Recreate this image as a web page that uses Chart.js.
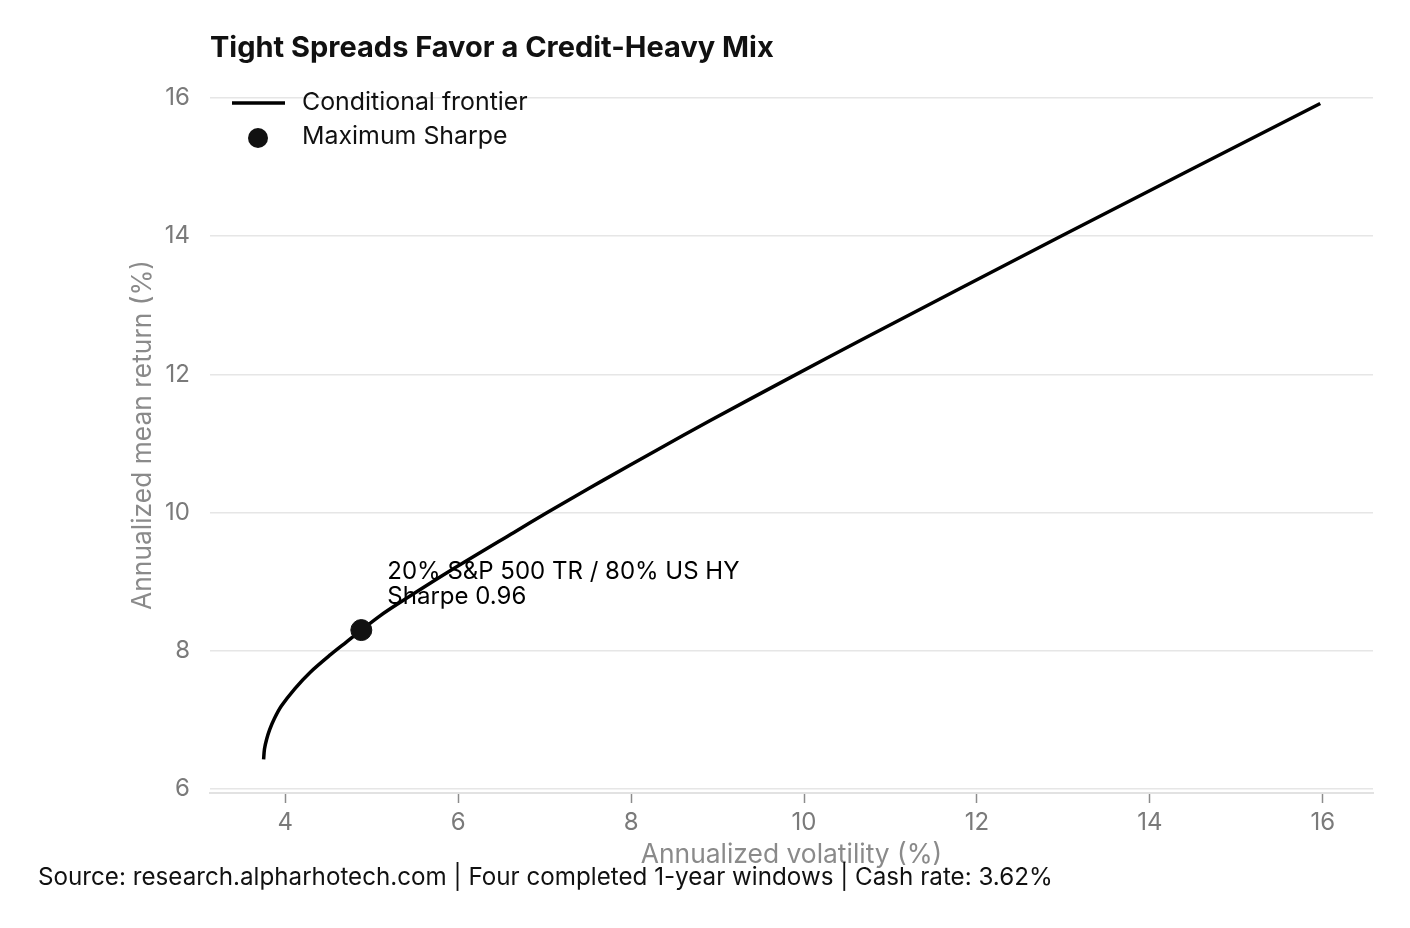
<!DOCTYPE html>
<html>
<head>
<meta charset="utf-8">
<script src="https://cdn.jsdelivr.net/npm/chart.js@4.4.1/dist/chart.umd.min.js"></script>
<style>
  html, body { margin: 0; padding: 0; background: #fff; }
  #wrap { width: 1410px; height: 928px; }
</style>
</head>
<body>
<div id="wrap"><canvas id="chart" width="1410" height="928"></canvas></div>
<script>
// frontier (vol %, return %)
var volatility = [3.75, 3.76, 3.785, 3.82, 3.875, 3.955, 4.11, 4.29, 4.52, 4.71, 4.88, 5.10, 5.29, 5.87, 6.64, 7.03, 7.36, 7.68, 8.29, 8.91, 9.85, 10.65, 12.97, 15.97];
var meanReturn = [6.43, 6.58, 6.72, 6.86, 7.02, 7.20, 7.45, 7.69, 7.94, 8.13, 8.30, 8.51, 8.67, 9.13, 9.71, 10.00, 10.24, 10.47, 10.90, 11.33, 11.96, 12.49, 14.00, 15.92];

var maxSharpeVol = [4.88];
var maxSharpeRet = [8.30];

var xTicks = [4, 6, 8, 10, 12, 14, 16];
var yTicks = [6, 8, 10, 12, 14, 16];

var seriesNames = ['Conditional frontier', 'Maximum Sharpe'];
var titleText = 'Tight Spreads Favor a Credit-Heavy Mix';
var noteLines = ['20% S&P 500 TR / 80% US HY', 'Sharpe 0.96'];
var sourceText = 'Source: research.alpharhotech.com | Four completed 1-year windows | Cash rate: 3.62%';

var FONT = 'Inter, "Noto Sans", sans-serif';

function toPoints(xs, ys) {
	var pts = [];
	for (var i = 0; i < xs.length; i++) {
		pts.push({x: xs[i], y: ys[i]});
	}
	return pts;
}

// title, legend, point label and source line
var textLayer = {
	id: 'textLayer',
	afterDraw: function(chart) {
		var ctx = chart.ctx;
		var area = chart.chartArea;
		ctx.save();
		ctx.textAlign = 'left';
		ctx.textBaseline = 'middle';

		ctx.fillStyle = '#111';
		ctx.font = 'bold 29px ' + FONT;
		ctx.fillText(titleText, area.left, 48);

		// legend
		var ly = area.top + 26;
		ctx.strokeStyle = '#000';
		ctx.lineWidth = 3.5;
		ctx.beginPath();
		ctx.moveTo(area.left + 22, ly);
		ctx.lineTo(area.left + 75, ly);
		ctx.stroke();
		ctx.font = '24.9px ' + FONT;
		ctx.fillStyle = '#111';
		ctx.fillText(seriesNames[0], area.left + 92, ly);

		ctx.beginPath();
		ctx.arc(area.left + 48, ly + 35, 10, 0, Math.PI * 2);
		ctx.fill();
		ctx.fillText(seriesNames[1], area.left + 92, ly + 34);

		// max sharpe label
		var pt = chart.getDatasetMeta(1).data[0];
		ctx.font = '24px ' + FONT;
		ctx.fillStyle = '#000';
		ctx.fillText(noteLines[0], pt.x + 26, pt.y - 58);
		ctx.fillText(noteLines[1], pt.x + 26, pt.y - 33);

		ctx.font = '24.2px ' + FONT;
		ctx.fillStyle = '#111';
		ctx.fillText(sourceText, 38, 878);
		ctx.restore();
	}
};

var ctx = document.getElementById('chart');
var chart = new Chart(ctx, {
	type: 'scatter',
	data: {
		datasets: [{
			label: seriesNames[0],
			data: toPoints(volatility, meanReturn),
			showLine: true,
			borderColor: '#000',
			borderWidth: 3.5,
			pointRadius: 0,
			tension: 0.3,
			order: 2
		}, {
			label: seriesNames[1],
			data: toPoints(maxSharpeVol, maxSharpeRet),
			backgroundColor: '#111',
			borderColor: '#111',
			pointRadius: 10.5,
			order: 1
		}]
	},
	options: {
		responsive: false,
		animation: false,
		layout: {
			padding: {left: 115, top: 77, right: 37, bottom: 0}
		},
		plugins: {
			legend: {display: false},
			tooltip: {enabled: false}
		},
		scales: {
			x: {
				type: 'linear',
				min: 3.13,
				max: 16.58,
				afterBuildTicks: function(axis) {
					axis.ticks = xTicks.map(function(v) { return {value: v}; });
				},
				afterFit: function(scale) {
					scale.height = 135;
				},
				grid: {
					drawOnChartArea: false,
					drawTicks: true,
					tickLength: 10,
					tickColor: '#8c8c8c',
					tickWidth: 1.5
				},
				border: {display: true, color: '#e2e2e2', width: 2},
				ticks: {
					color: '#7a7a7a',
					padding: 5,
					font: {family: FONT, size: 24}
				},
				title: {
					display: true,
					text: 'Annualized volatility (%)',
					color: '#8a8a8a',
					padding: {top: 4, bottom: 57},
					font: {family: FONT, size: 26.4}
				}
			},
			y: {
				type: 'linear',
				min: 5.942,
				max: 16.304,
				afterBuildTicks: function(axis) {
					axis.ticks = yTicks.map(function(v) { return {value: v}; });
				},
				afterFit: function(scale) {
					scale.width = 95;
				},
				grid: {
					color: '#e6e6e6',
					lineWidth: 1.5,
					drawTicks: false
				},
				border: {display: false},
				ticks: {
					color: '#7a7a7a',
					padding: 20,
					font: {family: FONT, size: 24}
				},
				title: {
					display: true,
					text: 'Annualized mean return (%)',
					color: '#8a8a8a',
					padding: {top: 12, bottom: 0},
					font: {family: FONT, size: 26.4}
				}
			}
		}
	},
	plugins: [textLayer]
});
</script>
</body>
</html>
